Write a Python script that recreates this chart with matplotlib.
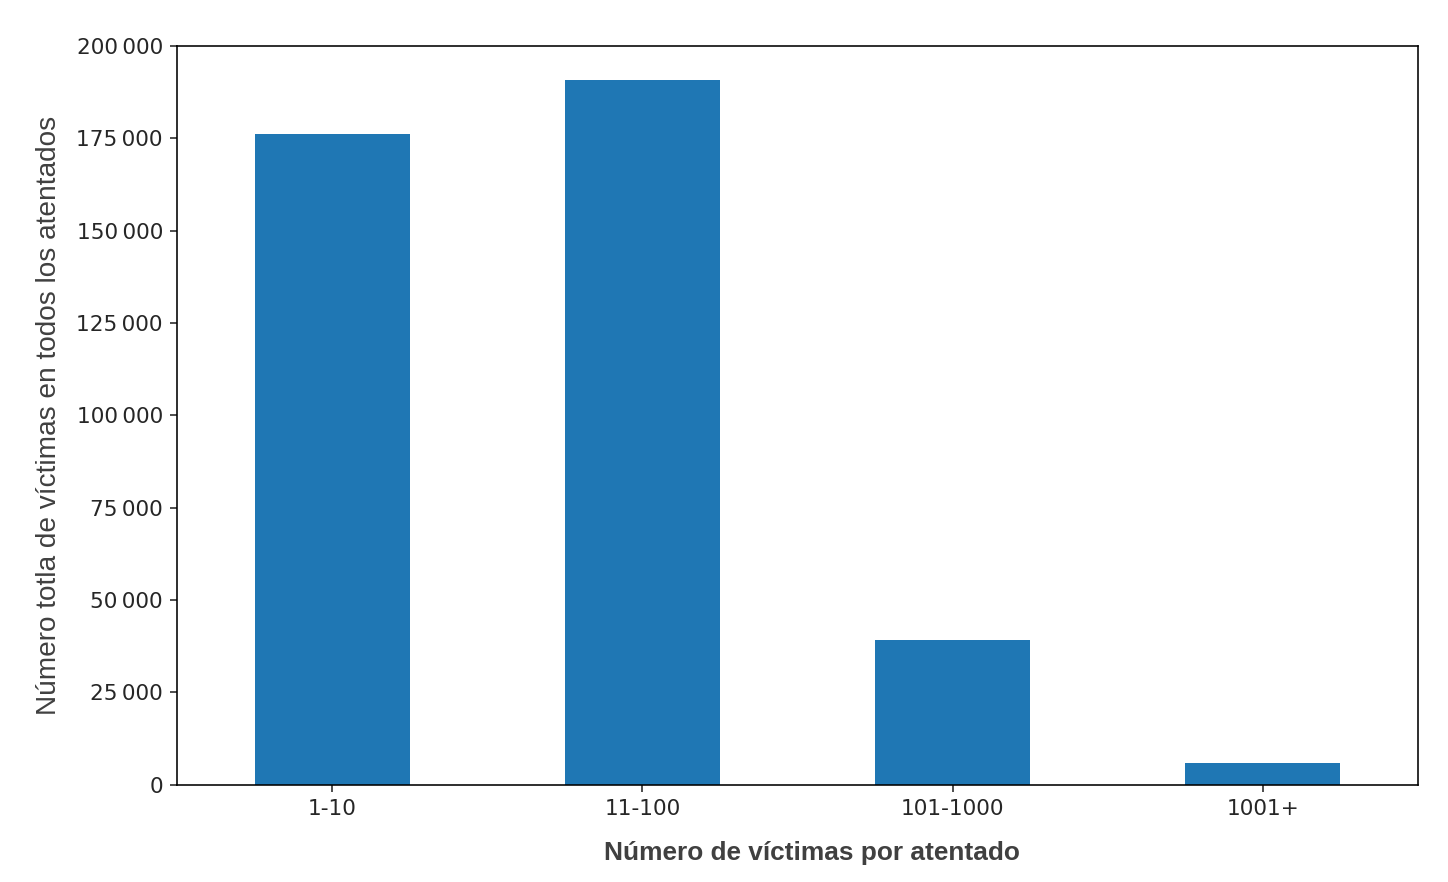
import matplotlib.pyplot as plt
import matplotlib.ticker as mticker

# Datos
categorias = ["1-10", "11-100", "101-1000", "1001+"]
victimas = [176100, 190900, 39100, 5750]

fig = plt.figure(figsize=(1448 / 144, 882 / 144), dpi=144)
ax = fig.add_axes([0.1222, 0.1105, 0.8571, 0.8373])

x = range(len(categorias))
ax.bar(x, victimas, width=0.5, color="#1f77b4")
ax.set_xlim(-0.5, len(categorias) - 0.5)
ax.set_ylim(0, 200000)
ax.set_xticks(list(x))
ax.set_xticklabels(categorias)

# separador de miles con espacio fino
ax.yaxis.set_major_locator(mticker.MultipleLocator(25000))
ax.yaxis.set_major_formatter(
    mticker.FuncFormatter(lambda v, _: f"{int(v):,}".replace(",", "\u2009")))
ax.tick_params(labelsize=10.8, colors="#262626", labelcolor="#262626")

ax.set_xlabel("Número de víctimas por atentado", family="Liberation Sans",
              fontsize=13.1, fontweight="bold", color="#404040")
ax.xaxis.set_label_coords(0.512, -0.076)
ax.set_ylabel("Número totla de víctimas en todos los atentados",
              family="Liberation Sans", fontsize=14, color="#404040")
ax.yaxis.set_label_coords(-0.0925, 0.5)

fig.savefig("out.png", dpi=144)
